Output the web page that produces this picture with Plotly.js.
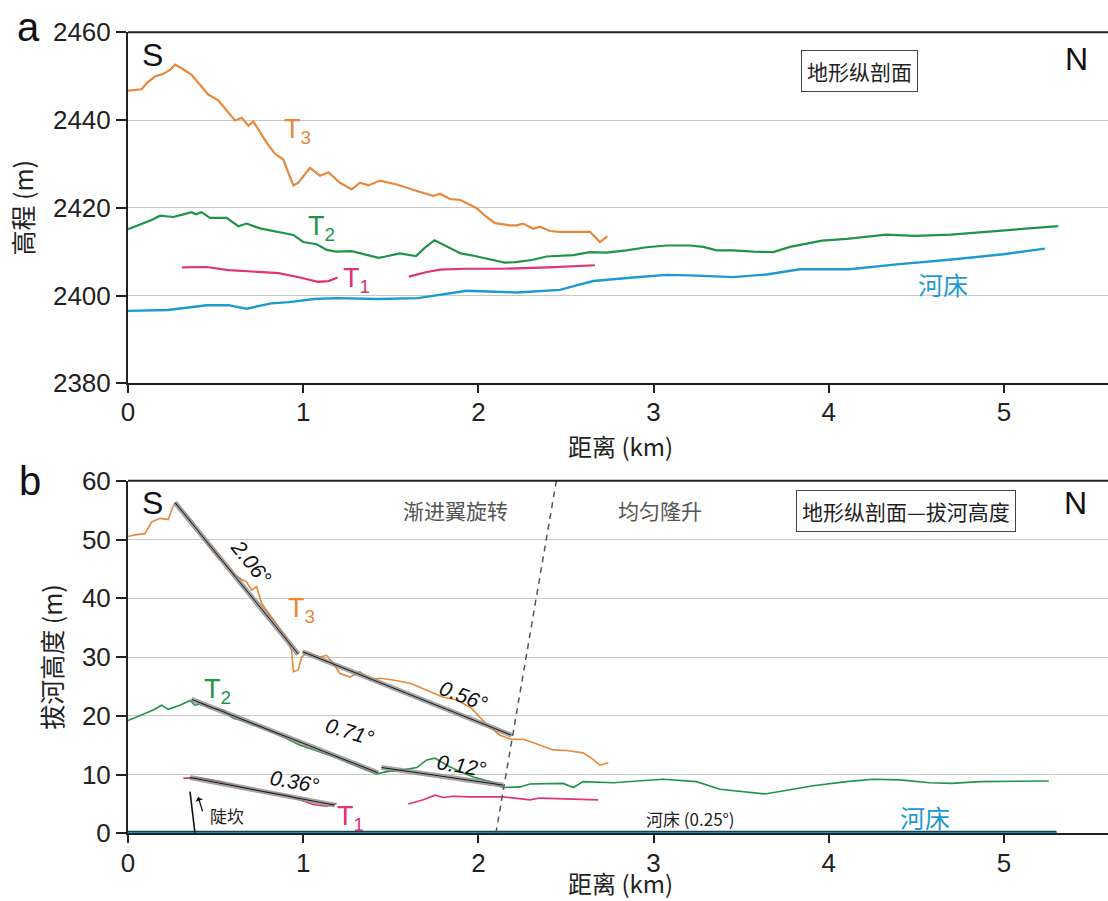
<!DOCTYPE html>
<html>
<head>
<meta charset="utf-8">
<script src="https://cdn.plot.ly/plotly-3.0.1.min.js"></script>
<style>html,body{margin:0;padding:0;background:#fff;}#chart{width:1108px;height:901px;}</style>
</head>
<body>
<div id="chart"></div>
<script>
// ---------- Panel a: elevation profiles (m) vs distance (km) ----------
const t3aX = [0,0.078,0.107,0.154,0.20,0.24,0.268,0.306,0.363,0.411,0.458,0.515,0.563,0.611,0.649,0.687,0.715,0.744,0.792,0.839,0.887,0.915,0.944,0.972,1.039,1.096,1.144,1.21,1.277,1.324,1.372,1.438,1.534,1.667,1.743,1.781,1.838,1.895,1.99,2.047,2.095,2.18,2.218,2.256,2.313,2.351,2.409,2.466,2.542,2.637,2.694,2.736];
const t3aY = [2446.7,2447.0,2448.4,2449.9,2450.5,2451.4,2452.6,2451.8,2450.3,2448.0,2445.8,2444.5,2442.3,2439.9,2440.5,2438.7,2439.7,2437.8,2434.8,2432.3,2431.0,2428.0,2425.1,2425.7,2429.1,2427.3,2428.1,2425.7,2424.2,2425.7,2425.1,2426.2,2425.3,2423.6,2422.7,2423.2,2422.0,2421.8,2419.9,2417.9,2416.5,2416.0,2416.0,2416.4,2415.2,2415.7,2414.7,2414.5,2414.5,2414.5,2412.2,2413.5];

const t2aX = [0,0.068,0.135,0.183,0.259,0.316,0.363,0.388,0.42,0.468,0.563,0.63,0.677,0.753,0.849,0.944,1.0,1.077,1.135,1.186,1.277,1.349,1.43,1.47,1.552,1.644,1.695,1.75,1.817,1.899,1.98,2.062,2.15,2.21,2.306,2.388,2.466,2.542,2.637,2.732,2.846,2.96,3.074,3.208,3.284,3.36,3.455,3.569,3.683,3.779,3.961,4.104,4.329,4.492,4.696,4.96,5.05,5.31];
const t2aY = [2415.1,2416.2,2417.2,2418.2,2417.9,2418.5,2419.0,2418.5,2419.0,2417.7,2417.7,2415.8,2416.4,2415.3,2414.5,2413.8,2412.2,2411.7,2410.4,2410.0,2410.1,2409.4,2408.6,2408.9,2409.6,2409.0,2410.9,2412.6,2411.3,2409.6,2409.0,2408.3,2407.5,2407.6,2408.1,2408.9,2409.0,2409.2,2409.9,2409.8,2410.3,2411.0,2411.4,2411.4,2411.1,2410.3,2410.3,2410.0,2409.9,2411.1,2412.5,2412.9,2413.9,2413.6,2413.9,2414.7,2414.9,2415.8];

const t1aX = [0.309,0.45,0.574,0.859,0.982,1.084,1.145,1.196,null,1.603,1.70,1.781,1.92,2.123,2.40,2.665];
const t1aY = [2406.4,2406.5,2405.8,2405.1,2404.1,2403.1,2403.3,2404.1,null,2404.3,2405.3,2405.9,2406.1,2406.1,2406.4,2406.9];

const riverAX = [0,0.228,0.45,0.574,0.676,0.818,0.92,1.063,1.186,1.43,1.655,1.781,1.933,2.218,2.466,2.56,2.656,2.884,3.074,3.208,3.455,3.645,3.836,4.12,4.387,4.672,4.996,5.234];
const riverAY = [2396.5,2396.7,2397.8,2397.8,2397.0,2398.2,2398.5,2399.2,2399.4,2399.2,2399.4,2400.2,2401.1,2400.7,2401.3,2402.3,2403.3,2404.1,2404.7,2404.6,2404.2,2404.8,2406.0,2406.0,2407.1,2408.1,2409.4,2410.7];

// ---------- Panel b: height above river (m) ----------
const t3bX = [0,0.04,0.097,0.135,0.183,0.23,0.255,0.274,0.316,0.373,0.43,0.487,0.544,0.601,0.649,0.677,0.706,0.734,0.763,0.829,0.906,0.934,0.944,0.972,0.991,1.02,1.096,1.134,1.172,1.21,1.267,1.324,1.381,1.438,1.514,1.614,1.715,1.797,1.878,1.96,2.042,2.123,2.189,2.256,2.327,2.389,2.427,2.503,2.598,2.646,2.694,2.742];
const t3bY = [50.5,50.8,51.0,53.0,53.6,53.4,55.5,56.2,54.7,52.7,50.2,47.9,46.2,44.2,43.2,42.8,41.4,42.0,39.1,36.3,33.2,31.2,27.5,27.8,30.0,30.7,30.0,30.3,28.9,27.2,26.6,27.5,26.1,26.4,26.1,25.5,24.3,23.2,22.7,21.3,18.7,16.7,16.0,16.0,15.3,14.7,14.2,14.1,13.7,12.8,11.6,12.0];

const t2bX = [0,0.068,0.144,0.192,0.23,0.297,0.354,0.382,0.42,0.468,0.544,0.601,0.677,0.772,0.868,0.982,1.096,1.191,1.324,1.419,1.476,1.572,1.648,1.705,1.752,1.819,1.895,1.971,2.066,2.142,2.237,2.294,2.484,2.542,2.598,2.77,3.055,3.245,3.379,3.636,3.911,4.101,4.254,4.406,4.577,4.7,4.863,5.256];
const t2bY = [19.2,20.1,21.0,21.8,21.1,21.8,22.6,21.8,22.1,21.3,21.0,19.6,19.0,17.9,16.7,15.0,13.9,12.9,11.2,10.1,10.5,10.8,11.2,12.5,12.8,11.6,10.5,9.6,8.8,7.8,7.9,8.4,8.5,7.8,8.8,8.6,9.2,8.8,7.5,6.7,8.1,8.8,9.2,9.1,8.6,8.5,8.8,8.9];

const t1bX = [0.316,0.411,0.525,0.658,0.772,0.906,0.982,1.058,1.134,1.191,null,1.6,1.686,1.752,1.8,1.857,1.952,2.142,2.294,2.351,2.684];
const t1bY = [9.4,9.4,8.8,7.8,7.1,6.5,5.7,4.9,4.6,5.1,null,5.0,5.7,6.5,6.1,6.3,6.2,6.2,5.7,6.0,5.7];

const riverBX = [0, 5.3];
const riverBY = [0, 0];

// fitted segments (T3: 2.06°, 0.56°; T2: 0.71°, 0.12°; T1: 0.36°)
const fitX = [0.268,0.972,null,0.997,2.189,null,0.363,1.428,null,1.447,2.142,null,0.354,1.18];
const fitY = [56.3,30.5,null,30.9,16.7,null,22.8,10.3,null,11.2,8.2,null,9.5,4.8];

// boundary between "渐进翼旋转" and "均匀隆升"
const boundaryX = [2.10, 2.445];
const boundaryY = [0, 60];

// 陡坎 (scarp) marker
const scarpX = [0.382, 0.354];
const scarpY = [0.1, 7.1];

const xTicks = [0,1,2,3,4,5];
const yTicksA = [2380,2400,2420,2440,2460];
const yTicksB = [0,10,20,30,40,50,60];

const C_T3 = '#e8883a', C_T2 = '#1f9448', C_T1 = '#e0337a', C_RIV = '#1e9ad2';
const FONT = 'Liberation Sans, Arial, Noto Sans CJK SC, sans-serif';
const CJK = 'Noto Sans CJK SC, Liberation Sans, sans-serif';

function line(x, y, color, width, xa, ya, extra) {
  return Object.assign({x: x, y: y, type: 'scatter', mode: 'lines', xaxis: xa, yaxis: ya,
    line: {color: color, width: width}, hoverinfo: 'skip', showlegend: false, connectgaps: false}, extra || {});
}

const traces = [
  line(riverAX, riverAY, C_RIV, 2.4, 'x', 'y'),
  line(t1aX, t1aY, C_T1, 2.2, 'x', 'y'),
  line(t2aX, t2aY, C_T2, 2.2, 'x', 'y'),
  line(t3aX, t3aY, C_T3, 2.2, 'x', 'y'),

  line(riverBX, riverBY, '#10435a', 5, 'x2', 'y2'),
  line(riverBX, riverBY, '#2aa6d6', 2.4, 'x2', 'y2'),
  line(t1bX, t1bY, C_T1, 1.6, 'x2', 'y2'),
  line(t2bX, t2bY, C_T2, 1.6, 'x2', 'y2'),
  line(t3bX, t3bY, C_T3, 1.6, 'x2', 'y2'),
  line(fitX, fitY, 'rgba(140,140,140,0.8)', 5, 'x2', 'y2'),
  line(fitX, fitY, '#1a1a1a', 1.0, 'x2', 'y2'),
  line(boundaryX, boundaryY, '#555555', 1.5, 'x2', 'y2', {line: {color: '#555555', width: 1.5, dash: '6px,5px'}}),
  line(scarpX, scarpY, '#111111', 1.6, 'x2', 'y2')
];

const axisX = {
  range: [0, 5.594], tickvals: xTicks, ticks: 'outside', ticklen: 8, tickwidth: 2, tickcolor: '#222',
  ticklabelstandoff: -3,
  showline: true, linewidth: 2, linecolor: '#222', showgrid: false, zeroline: false,
  tickfont: {family: FONT, size: 26, color: '#222'}
};
function yAxis(range, ticks, domain, title, anchor) {
  return {
    range: range, tickvals: ticks, domain: domain, anchor: anchor, ticks: 'outside', ticklen: 10, tickwidth: 2, tickcolor: '#222',
    showline: true, linewidth: 2, linecolor: '#222', showgrid: true, gridcolor: '#c8c8c8', gridwidth: 1, zeroline: false,
    tickfont: {family: FONT, size: 26, color: '#222'},
    title: {text: title, font: {family: CJK, size: 25, color: '#222'}, standoff: 12}
  };
}

function ann(text, x, y, xr, yr, size, color, extra) {
  return Object.assign({text: text, x: x, y: y, xref: xr, yref: yr, showarrow: false,
    xanchor: 'center', yanchor: 'middle', font: {family: FONT, size: size, color: color}}, extra || {});
}

const annotations = [
  ann('a', -0.102, 0.970, 'paper', 'paper', 40, '#111'),
  ann('b', -0.100, 0.466, 'paper', 'paper', 40, '#111'),
  // x-axis titles
  ann('距离 (km)', 0.503, 0.506, 'paper', 'paper', 24, '#222', {borderpad: 0, font: {family: CJK, size: 24, color: '#222'}}),
  ann('距离 (km)', 0.503, 0.0, 'paper', 'paper', 24, '#222', {yanchor: 'bottom', borderpad: 0, font: {family: CJK, size: 24, color: '#222'}}),
  // panel a
  ann('S', 0.137, 2454.8, 'x', 'y', 32, '#111'),
  ann('N', 5.417, 2454.0, 'x', 'y', 32, '#111'),
  ann('地形纵剖面', 4.176, 2451.2, 'x', 'y', 21, '#222', {font: {family: CJK, size: 21, color: '#222'}, bordercolor: '#444', borderwidth: 1, borderpad: 5, bgcolor: '#fff'}),
  ann('T<sub>3</sub>', 0.97, 2437.6, 'x', 'y', 27, C_T3),
  ann('T<sub>2</sub>', 1.107, 2415.3, 'x', 'y', 27, C_T2),
  ann('T<sub>1</sub>', 1.307, 2403.5, 'x', 'y', 27, C_T1),
  ann('河床', 4.652, 2402.6, 'x', 'y', 25, C_RIV, {font: {family: CJK, size: 25, color: C_RIV}}),
  // panel b
  ann('S', 0.137, 56.2, 'x2', 'y2', 32, '#111'),
  ann('N', 5.41, 56.2, 'x2', 'y2', 32, '#111'),
  ann('渐进翼旋转', 1.872, 55.0, 'x2', 'y2', 21, '#555', {font: {family: CJK, size: 21, color: '#555'}}),
  ann('均匀隆升', 3.036, 55.0, 'x2', 'y2', 21, '#555', {font: {family: CJK, size: 21, color: '#555'}}),
  ann('地形纵剖面—拔河高度', 4.44, 54.9, 'x2', 'y2', 21, '#222', {font: {family: CJK, size: 21, color: '#222'}, bordercolor: '#444', borderwidth: 1, borderpad: 5, bgcolor: '#fff'}),
  ann('T<sub>3</sub>', 0.99, 38.0, 'x2', 'y2', 27, C_T3),
  ann('T<sub>2</sub>', 0.51, 24.2, 'x2', 'y2', 27, C_T2),
  ann('T<sub>1</sub>', 1.27, 2.6, 'x2', 'y2', 27, C_T1),
  ann('河床', 4.549, 2.8, 'x2', 'y2', 25, C_RIV, {font: {family: CJK, size: 25, color: C_RIV}}),
  ann('河床 (0.25°)', 3.208, 2.6, 'x2', 'y2', 17, '#222', {font: {family: CJK, size: 17, color: '#222'}}),
  ann('陡坎', 0.566, 3.0, 'x2', 'y2', 17, '#222', {font: {family: CJK, size: 17, color: '#222'}}),
  ann('<i>2.06°</i>', 0.70, 46.2, 'x2', 'y2', 21, '#111', {textangle: 51}),
  ann('<i>0.56°</i>', 1.914, 23.5, 'x2', 'y2', 21, '#111', {textangle: 21}),
  ann('<i>0.71°</i>', 1.267, 17.3, 'x2', 'y2', 21, '#111', {textangle: 17}),
  ann('<i>0.12°</i>', 1.904, 11.6, 'x2', 'y2', 21, '#111', {textangle: 9}),
  ann('<i>0.36°</i>', 0.953, 8.8, 'x2', 'y2', 21, '#111', {textangle: 10}),
  {x: 0.40, y: 6.2, xref: 'x2', yref: 'y2', ax: 5, ay: 16, showarrow: true, arrowhead: 1, arrowsize: 1, arrowwidth: 1.3, arrowcolor: '#111', text: ''}
];

const layout = {
  width: 1108, height: 901,
  margin: {l: 128, r: 0, t: 0, b: 0},
  paper_bgcolor: '#fff', plot_bgcolor: '#fff',
  font: {family: FONT, color: '#222'},
  showlegend: false,
  xaxis: Object.assign({}, axisX, {anchor: 'y', domain: [0, 1]}),
  yaxis: yAxis([2380, 2460], yTicksA, [0.5746, 0.9642], '高程 (m)', 'x'),
  xaxis2: Object.assign({}, axisX, {anchor: 'y2', domain: [0, 1]}),
  yaxis2: yAxis([0, 60], yTicksB, [0.0751, 0.4664], '拔河高度 (m)', 'x2'),
  shapes: [
    {type: 'line', xref: 'x domain', yref: 'y domain', x0: 0, x1: 1, y0: 1, y1: 1, line: {color: '#222', width: 2}},
    {type: 'line', xref: 'x2 domain', yref: 'y2 domain', x0: 0, x1: 1, y0: 1, y1: 1, line: {color: '#222', width: 2}}
  ],
  annotations: annotations
};

Plotly.newPlot('chart', traces, layout, {staticPlot: true, displayModeBar: false});
</script>
</body>
</html>
